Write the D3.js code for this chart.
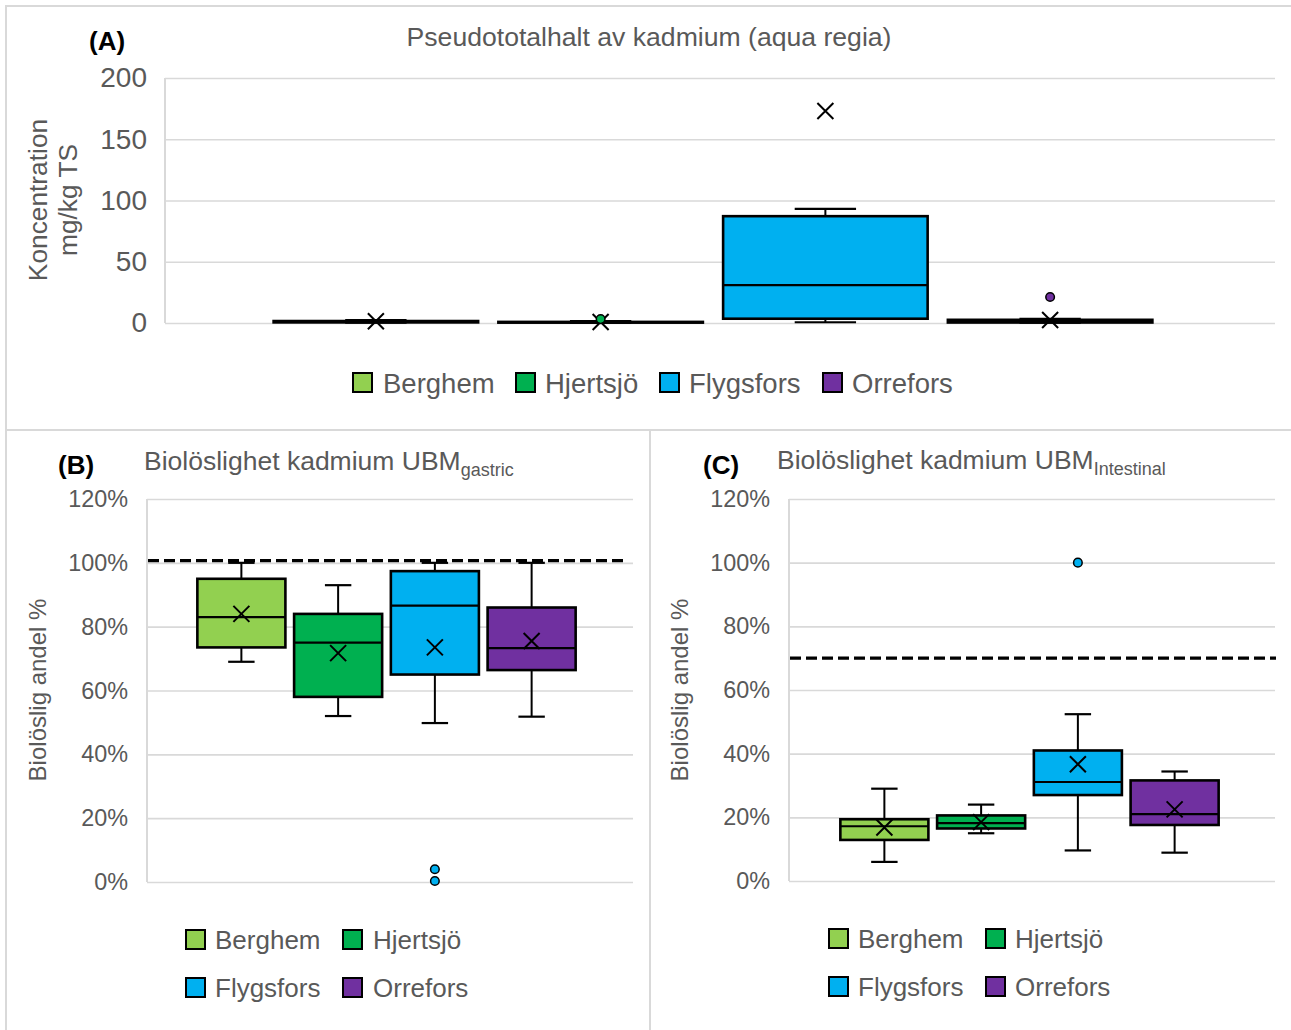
<!DOCTYPE html>
<html>
<head>
<meta charset="utf-8">
<script src="https://cdn.jsdelivr.net/npm/d3@7"></script>
<style>
  html, body { margin: 0; padding: 0; background: #fff; }
  svg { display: block; font-family: "Liberation Sans", Arial, sans-serif; }
</style>
</head>
<body>
<svg id="chart" width="1291" height="1030"></svg>
<script>
// Sites (series) shown in every panel
const series = ["Berghem", "Hjertsjö", "Flygsfors", "Orrefors"];

// (A) Pseudo-total cadmium, mg/kg TS
const totalMin     = [0.3, 0.2, 0.6, 0.3];
const totalQ1      = [0.5, 0.3, 3.5, 0.4];
const totalMedian  = [1.0, 0.6, 31, 1.4];
const totalQ3      = [1.6, 0.9, 87.2, 2.6];
const totalMax     = [2.3, 1.6, 93.2, 3.4];
const totalMean    = [1.4, 0.8, 173, 2.5];
const totalOutliers = [[], [3.2], [], [21.2]];
const totalTicks   = [0, 50, 100, 150, 200];

// (B) Bioaccessible share, UBM gastric (%)
const gastricMin     = [69, 52, 49.8, 51.8];
const gastricQ1      = [73.5, 58, 65, 66.4];
const gastricMedian  = [83, 75, 86.6, 73.3];
const gastricQ3      = [95, 84, 97.4, 86];
const gastricMax     = [100, 93, 100, 100];
const gastricMean    = [84, 71.7, 73.5, 75.5];
const gastricOutliers = [[], [], [4, 0.3], []];
const gastricRef     = 100.7;

// (C) Bioaccessible share, UBM intestinal (%)
const intestMin     = [6, 15, 9.6, 8.9];
const intestQ1      = [12.9, 16.5, 27, 17.6];
const intestMedian  = [17.2, 18.2, 31.1, 21];
const intestQ3      = [19.4, 20.6, 41, 31.6];
const intestMax     = [29, 24, 52.4, 34.4];
const intestMean    = [16.8, 18.5, 36.7, 22.5];
const intestOutliers = [[], [], [100], []];
const intestRef     = 70;

const percentTicks = [0, 20, 40, 60, 80, 100, 120];

const colors = ["#92d050", "#00b050", "#00b0f0", "#7030a0"];
const textGray = "#595959";
const gridGray = "#d9d9d9";

const svg = d3.select("#chart");

// panel frames
const frames = [
  {x: 6, y: 6, w: 1290, h: 424},
  {x: 6, y: 430, w: 644, h: 610},
  {x: 650, y: 430, w: 650, h: 610}
];
svg.selectAll("rect.frame").data(frames).join("rect")
  .attr("class", "frame")
  .attr("x", d => d.x).attr("y", d => d.y)
  .attr("width", d => d.w).attr("height", d => d.h)
  .attr("fill", "none").attr("stroke", gridGray).attr("stroke-width", 2);

function buildStats(mins, q1s, meds, q3s, maxs, means, outs) {
  return series.map((s, i) => ({
    name: s, color: colors[i],
    min: mins[i], q1: q1s[i], median: meds[i], q3: q3s[i], max: maxs[i],
    mean: means[i], outliers: outs[i]
  }));
}

function drawPanel(cfg) {
  const g = svg.append("g");
  const y = d3.scaleLinear().domain(cfg.domain).range([cfg.bottom, cfg.top]);
  const x = d3.scaleBand().domain(series)
    .range([cfg.bandStart, cfg.bandEnd])
    .paddingInner(0.09).paddingOuter(0.045);

  // gridlines + tick labels
  const axis = d3.axisLeft(y).tickValues(cfg.ticks)
    .tickSize(-(cfg.right - cfg.left)).tickPadding(cfg.tickPad)
    .tickFormat(cfg.fmt);
  const ag = g.append("g").attr("transform", `translate(${cfg.left},0)`).call(axis);
  ag.select(".domain").remove();
  ag.selectAll(".tick line").attr("stroke", gridGray).attr("stroke-width", 1.6);
  ag.selectAll(".tick text").attr("fill", textGray)
    .style("font-size", cfg.tickFont + "px")
    .style("font-family", "'Liberation Sans', Arial, sans-serif");

  // left axis line
  g.append("line")
    .attr("x1", cfg.left).attr("x2", cfg.left)
    .attr("y1", y(cfg.domain[1])).attr("y2", y(cfg.domain[0]))
    .attr("stroke", gridGray).attr("stroke-width", 2);

  // reference line
  if (cfg.ref != null) {
    g.append("line")
      .attr("x1", cfg.left + 1).attr("x2", cfg.refEnd)
      .attr("y1", y(cfg.ref)).attr("y2", y(cfg.ref))
      .attr("stroke", "#000").attr("stroke-width", 3.4)
      .attr("stroke-dasharray", "11,5");
  }

  const bw = x.bandwidth();
  const capW = bw * 0.3;
  const boxes = g.selectAll("g.box").data(cfg.stats).join("g")
    .attr("class", "box")
    .attr("transform", d => `translate(${x(d.name) + bw / 2},0)`);

  // whiskers
  boxes.append("line")
    .attr("x1", 0).attr("x2", 0)
    .attr("y1", d => y(d.max)).attr("y2", d => y(d.q3))
    .attr("stroke", "#000").attr("stroke-width", 2);
  boxes.append("line")
    .attr("x1", 0).attr("x2", 0)
    .attr("y1", d => y(d.q1)).attr("y2", d => y(d.min))
    .attr("stroke", "#000").attr("stroke-width", 2);
  boxes.append("line")
    .attr("x1", -capW / 2).attr("x2", capW / 2)
    .attr("y1", d => y(d.max)).attr("y2", d => y(d.max))
    .attr("stroke", "#000").attr("stroke-width", 2.2);
  boxes.append("line")
    .attr("x1", -capW / 2).attr("x2", capW / 2)
    .attr("y1", d => y(d.min)).attr("y2", d => y(d.min))
    .attr("stroke", "#000").attr("stroke-width", 2.2);

  // box
  boxes.append("rect")
    .attr("x", -bw / 2).attr("width", bw)
    .attr("y", d => y(d.q3))
    .attr("height", d => Math.max(y(d.q1) - y(d.q3), 0.5))
    .attr("fill", d => d.color)
    .attr("stroke", "#000").attr("stroke-width", 2.6);
  // median
  boxes.append("line")
    .attr("x1", -bw / 2).attr("x2", bw / 2)
    .attr("y1", d => y(d.median)).attr("y2", d => y(d.median))
    .attr("stroke", "#000").attr("stroke-width", 2.2);

  // mean marker (X)
  const m = 8;
  boxes.append("path")
    .attr("d", d => {
      const cy = y(d.mean);
      return `M${-m},${cy - m}L${m},${cy + m}M${-m},${cy + m}L${m},${cy - m}`;
    })
    .attr("stroke", "#000").attr("stroke-width", 2).attr("fill", "none");

  // outliers
  boxes.selectAll("circle")
    .data(d => d.outliers.map(v => ({v, color: d.color})))
    .join("circle")
    .attr("cx", 0).attr("cy", d => y(d.v)).attr("r", 4.3)
    .attr("fill", d => d.color).attr("stroke", "#000").attr("stroke-width", 1.5);

  return g;
}

function legend(items) {
  const lg = svg.append("g");
  const it = lg.selectAll("g").data(items).join("g")
    .attr("transform", d => `translate(${d.x},${d.y})`);
  it.append("rect")
    .attr("x", 0).attr("y", -10).attr("width", 19).attr("height", 19)
    .attr("fill", d => colors[series.indexOf(d.name)])
    .attr("stroke", "#000").attr("stroke-width", 2);
  it.append("text")
    .attr("x", d => d.tx).attr("y", 0).attr("dy", "0.36em")
    .attr("fill", textGray).style("font-size", d => d.fs + "px")
    .text(d => d.name);
}

// ---------- (A) ----------
drawPanel({
  stats: buildStats(totalMin, totalQ1, totalMedian, totalQ3, totalMax, totalMean, totalOutliers),
  domain: [0, 200], ticks: totalTicks, fmt: d3.format("d"),
  top: 78, bottom: 323, left: 165, right: 1275,
  bandStart: 263.5, bandEnd: 1162.5, tickPad: 18, tickFont: 28
});
svg.append("text").attr("x", 89).attr("y", 50)
  .attr("font-weight", "bold").style("font-size", "26px").attr("fill", "#000").text("(A)");
svg.append("text").attr("x", 649).attr("y", 46).attr("text-anchor", "middle")
  .style("font-size", "26.6px").attr("fill", textGray)
  .text("Pseudototalhalt av kadmium (aqua regia)");
const yTitleA = svg.append("text")
  .attr("transform", "translate(38,200) rotate(-90)")
  .attr("text-anchor", "middle").attr("fill", textGray).style("font-size", "26.3px");
yTitleA.append("tspan").attr("x", 0).attr("dy", "0.35em").text("Koncentration");
yTitleA.append("tspan").attr("x", 0).attr("dy", "1.15em").text("mg/kg TS");
legend([
  {name: "Berghem", x: 353, y: 383, tx: 30, fs: 27.5},
  {name: "Hjertsjö", x: 516, y: 383, tx: 29, fs: 27.5},
  {name: "Flygsfors", x: 660, y: 383, tx: 29, fs: 27.5},
  {name: "Orrefors", x: 823, y: 383, tx: 29, fs: 27.5}
]);

// ---------- (B) ----------
drawPanel({
  stats: buildStats(gastricMin, gastricQ1, gastricMedian, gastricQ3, gastricMax, gastricMean, gastricOutliers),
  domain: [0, 120], ticks: percentTicks, fmt: d => d + "%",
  top: 499, bottom: 882, left: 147, right: 633,
  bandStart: 193, bandEnd: 580, tickPad: 19, tickFont: 23.4,
  ref: gastricRef, refEnd: 627
});
svg.append("text").attr("x", 58).attr("y", 474)
  .attr("font-weight", "bold").style("font-size", "26px").attr("fill", "#000").text("(B)");
const tB = svg.append("text").attr("x", 144).attr("y", 470)
  .style("font-size", "26.5px").attr("fill", textGray);
tB.append("tspan").text("Biolöslighet kadmium UBM");
tB.append("tspan").attr("dy", 6).style("font-size", "18px").text("gastric");
svg.append("text")
  .attr("transform", "translate(38,690) rotate(-90)")
  .attr("text-anchor", "middle").attr("dy", "0.35em")
  .attr("fill", textGray).style("font-size", "24px").text("Biolöslig andel %");
legend([
  {name: "Berghem", x: 186, y: 940, tx: 29, fs: 26},
  {name: "Hjertsjö", x: 343, y: 940, tx: 30, fs: 26},
  {name: "Flygsfors", x: 186, y: 988, tx: 29, fs: 26},
  {name: "Orrefors", x: 343, y: 988, tx: 30, fs: 26}
]);

// ---------- (C) ----------
drawPanel({
  stats: buildStats(intestMin, intestQ1, intestMedian, intestQ3, intestMax, intestMean, intestOutliers),
  domain: [0, 120], ticks: percentTicks, fmt: d => d + "%",
  top: 499, bottom: 881, left: 789, right: 1275,
  bandStart: 836, bandEnd: 1223, tickPad: 19, tickFont: 23.4,
  ref: intestRef, refEnd: 1276
});
svg.append("text").attr("x", 703).attr("y", 474)
  .attr("font-weight", "bold").style("font-size", "26px").attr("fill", "#000").text("(C)");
const tC = svg.append("text").attr("x", 777).attr("y", 469)
  .style("font-size", "26.5px").attr("fill", textGray);
tC.append("tspan").text("Biolöslighet kadmium UBM");
tC.append("tspan").attr("dy", 6).style("font-size", "18px").text("Intestinal");
svg.append("text")
  .attr("transform", "translate(680,690) rotate(-90)")
  .attr("text-anchor", "middle").attr("dy", "0.35em")
  .attr("fill", textGray).style("font-size", "24px").text("Biolöslig andel %");
legend([
  {name: "Berghem", x: 829, y: 939, tx: 29, fs: 26},
  {name: "Hjertsjö", x: 986, y: 939, tx: 29, fs: 26},
  {name: "Flygsfors", x: 829, y: 987, tx: 29, fs: 26},
  {name: "Orrefors", x: 986, y: 987, tx: 29, fs: 26}
]);
</script>
</body>
</html>
